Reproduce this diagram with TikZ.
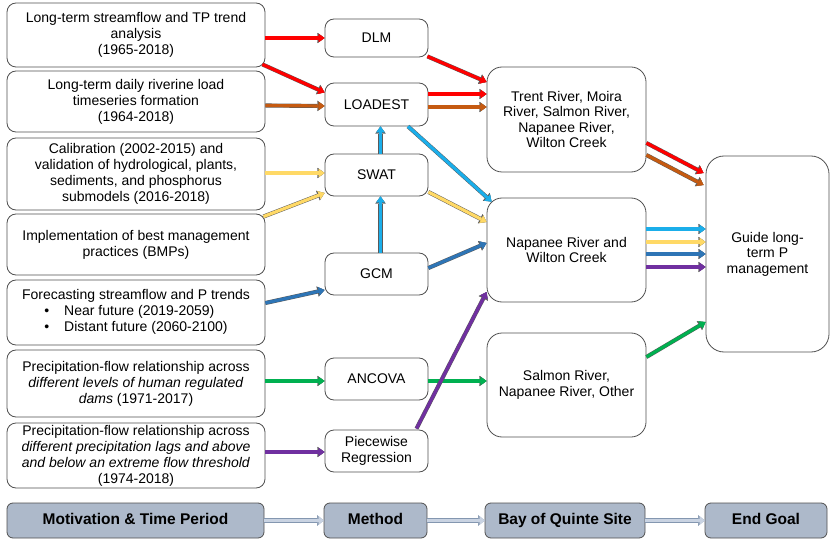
\documentclass[tikz,border=0pt]{standalone}
\usepackage{fontspec}
\setmainfont{Liberation Sans}
\usetikzlibrary{arrows.meta}

\definecolor{boxline}{HTML}{505050}
\definecolor{arrowedge}{HTML}{5A5A5A}
\definecolor{cRed}{HTML}{FF0000}
\definecolor{cBrown}{HTML}{C55A11}
\definecolor{cYellow}{HTML}{FFD966}
\definecolor{cSky}{HTML}{1BAEEA}
\definecolor{cBlue}{HTML}{2E75B6}
\definecolor{cPurple}{HTML}{7030A0}
\definecolor{cGreen}{HTML}{00B050}
\definecolor{barFill}{HTML}{ADB9CA}
\definecolor{barArrow}{HTML}{C9D3E2}
\definecolor{barEdge}{HTML}{8497B0}

\tikzset{
  box/.style={draw=boxline, line width=0.8pt, fill=white, rounded corners=9pt,
    align=center, inner sep=0pt, font=\fontsize{14}{16}\selectfont},
  bigbox/.style={box, rounded corners=15pt, font=\fontsize{14}{15.6}\selectfont},
  bar/.style={draw=boxline, line width=0.8pt, fill=barFill, rounded corners=6pt,
    inner sep=0pt, text height=11.2pt, text depth=3pt,
    font=\bfseries\fontsize{15.5}{17}\selectfont},
  conn/.style={line width=3.2pt, draw=#1,
    -{Triangle[length=6pt,width=8.5pt,line width=0.3pt]},
    preaction={draw=arrowedge, line width=4.1pt,
      -{Triangle[length=7.2pt,width=10.4pt,line width=0.3pt]}}},
  barconn/.style={line width=3.8pt, draw=barArrow,
    -{Triangle[length=5pt,width=8.5pt,line width=0.3pt]},
    preaction={draw=barEdge, line width=5.2pt,
      -{Triangle[length=6.4pt,width=10.5pt,line width=0.3pt]}}},
}

\begin{document}
\begin{tikzpicture}[x=1pt,y=-1pt]
\useasboundingbox (0,0) rectangle (830,540);

% ---- motivation & time period ----
\node[box, minimum width=258pt, minimum height=64pt] (L1) at (136,35)
  {Long-term streamflow and TP trend\\analysis\\(1965-2018)};
\node[box, minimum width=258pt, minimum height=61pt] (L2) at (136,101.5)
  {Long-term daily riverine load\\timeseries formation\\(1964-2018)};
\node[box, minimum width=258pt, minimum height=72pt] (L3) at (136,174)
  {Calibration (2002-2015) and\\validation of hydrological, plants,\\sediments, and phosphorus\\submodels (2016-2018)};
\node[box, minimum width=258pt, minimum height=61pt] (L4) at (136,244.5)
  {Implementation of best management\\practices (BMPs)};
\node[box, minimum width=258pt, minimum height=65pt] (L5) at (136,312.5)
  {Forecasting streamflow and P trends\\
   \begin{tabular}[t]{@{}l@{}}
   •\hspace{15pt}Near future (2019-2059)\\
   •\hspace{15pt}Distant future (2060-2100)
   \end{tabular}};
\node[box, minimum width=258pt, minimum height=67pt] (L6) at (136,383.5)
  {Precipitation-flow relationship across\\\textit{different levels of human regulated}\\\textit{dams} (1971-2017)};
\node[box, minimum width=258pt, minimum height=65pt] (L7) at (136,455.5)
  {Precipitation-flow relationship across\\\textit{different precipitation lags and above}\\\textit{and below an extreme flow threshold}\\(1974-2018)};

% ---- methods ----
\node[box, minimum width=103pt, minimum height=38pt] (DLM) at (376.5,38) {DLM};
\node[box, minimum width=103pt, minimum height=43pt] (LOADEST) at (376.5,104.5) {LOADEST};
\node[box, minimum width=103pt, minimum height=42pt] (SWAT) at (376.5,175) {SWAT};
\node[box, minimum width=103pt, minimum height=42pt] (GCM) at (376.5,274) {GCM};
\node[box, minimum width=103pt, minimum height=42pt] (ANCOVA) at (376.5,379) {ANCOVA};
\node[box, minimum width=103pt, minimum height=42pt] (PWR) at (376.5,451) {Piecewise\\Regression};

% ---- Bay of Quinte sites ----
\node[bigbox, minimum width=159pt, minimum height=105pt] (Trent) at (566.5,119.5)
  {Trent River, Moira\\River, Salmon River,\\Napanee River,\\Wilton Creek};
\node[bigbox, minimum width=159pt, minimum height=104pt] (Napanee) at (566.5,250)
  {Napanee River and\\Wilton Creek};
\node[bigbox, minimum width=159pt, minimum height=104pt] (Salmon) at (566.5,385)
  {Salmon River,\\Napanee River, Other};

% ---- end goal ----
\node[bigbox, rounded corners=18pt, minimum width=123pt, minimum height=196pt] (Guide) at (767.5,254)
  {Guide long-\\term P\\management};

% ---- legend bar ----
\node[bar, minimum width=257pt, minimum height=35pt] (bMot) at (135.5,520.5) {Motivation \& Time Period};
\node[bar, minimum width=103pt, minimum height=35pt] (bMet) at (375.5,520.5) {Method};
\node[bar, minimum width=160pt, minimum height=35pt] (bBay) at (565,520.5) {Bay of Quinte Site};
\node[bar, minimum width=122pt, minimum height=35pt] (bEnd) at (766,520.5) {End Goal};

\draw[barconn] (bMot.east) -- (bMet.west);
\draw[barconn] (bMet.east) -- (bBay.west);
\draw[barconn] (bBay.east) -- (bEnd.west);

% ---- motivation -> method ----
\draw[conn=cRed] ([yshift=-3pt]L1.east) -- (DLM.west);
\draw[conn=cRed] ([shift={(-3pt,3pt)}]L1.south east) -- ([yshift=12pt]LOADEST.west);
\draw[conn=cBrown] ([yshift=-4pt]L2.east) -- ([yshift=-1.5pt]LOADEST.west);
\draw[conn=cYellow] ([yshift=1pt]L3.east) -- ([yshift=2pt]SWAT.west);
\draw[conn=cYellow] ([shift={(-2pt,-3pt)}]L4.north east) -- ([yshift=-18pt]SWAT.west);
\draw[conn=cBlue] ([yshift=9.5pt]L5.east) -- ([yshift=-16pt]GCM.west);
\draw[conn=cGreen] ([yshift=2.5pt]L6.east) -- ([yshift=-2pt]ANCOVA.west);
\draw[conn=cPurple] ([yshift=3.5pt]L7.east) -- ([yshift=-1pt]PWR.west);

% ---- method -> method ----
\draw[conn=cSky] ([xshift=4pt]GCM.north) -- ([xshift=4pt]SWAT.south);
\draw[conn=cSky] ([xshift=4pt]SWAT.north) -- ([xshift=4pt]LOADEST.south);

% ---- method -> site ----
\draw[conn=cRed] ([shift={(-1pt,1pt)}]DLM.south east) -- ([yshift=37.5pt]Trent.west);
\draw[conn=cRed] ([yshift=10.5pt]LOADEST.east) -- ([yshift=25.5pt]Trent.west);
\draw[conn=cBrown] ([yshift=-2.5pt]LOADEST.east) -- ([yshift=12.5pt]Trent.west);
\draw[conn=cSky] ([xshift=31.5pt]LOADEST.south) -- ([shift={(5pt,-4pt)}]Napanee.north west);
\draw[conn=cYellow] ([yshift=-17pt]SWAT.east) -- ([yshift=28pt]Napanee.west);
\draw[conn=cBlue] ([yshift=6pt]GCM.east) -- ([yshift=7pt]Napanee.west);
\draw[conn=cGreen] ([yshift=-2pt]ANCOVA.east) -- ([yshift=4pt]Salmon.west);
\draw[conn=cPurple] ([xshift=40pt,yshift=1pt]PWR.north) -- ([yshift=-42pt]Napanee.west);

% ---- site -> end goal ----
\draw[conn=cRed] ([yshift=-23.5pt]Trent.east) -- ([shift={(-2pt,81pt)}]Guide.west);
\draw[conn=cBrown] ([yshift=-35.5pt]Trent.east) -- ([shift={(-2pt,69pt)}]Guide.west);
\draw[conn=cSky] ([yshift=21pt]Napanee.east) -- ([yshift=25pt]Guide.west);
\draw[conn=cYellow] ([yshift=8pt]Napanee.east) -- ([yshift=12pt]Guide.west);
\draw[conn=cBlue] ([yshift=-4pt]Napanee.east) -- ([yshift=0pt]Guide.west);
\draw[conn=cPurple] ([yshift=-17pt]Napanee.east) -- ([yshift=-13pt]Guide.west);
\draw[conn=cGreen] ([yshift=28pt]Salmon.east) -- ([yshift=-68pt]Guide.west);
\end{tikzpicture}
\end{document}
